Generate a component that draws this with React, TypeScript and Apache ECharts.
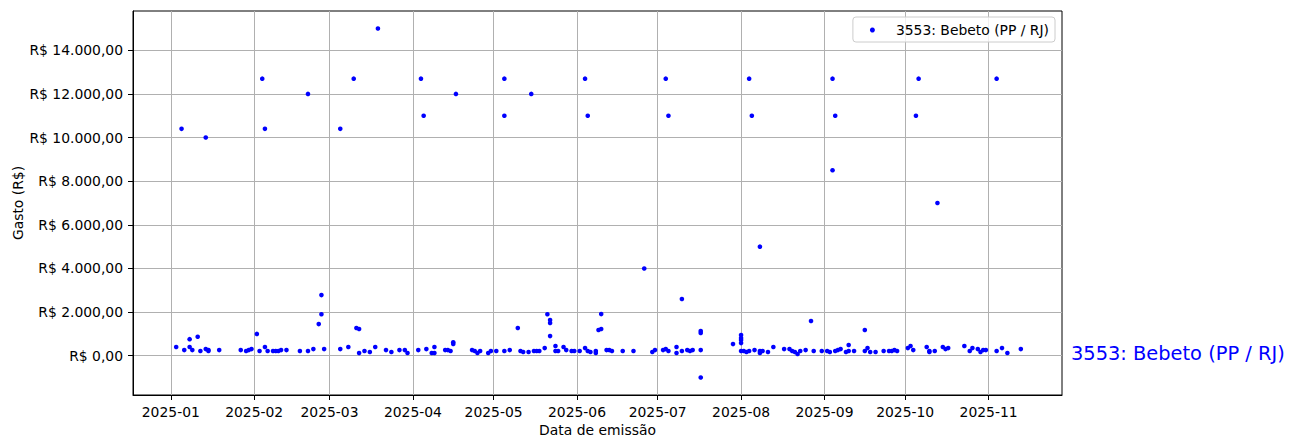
import React, { useEffect, useRef } from "react";
import * as echarts from "echarts";

const SERIES_NAME = "3553: Bebeto (PP / RJ)";

const dates: string[] = [
  "2025-01-03", "2025-01-05", "2025-01-06", "2025-01-08", "2025-01-08", "2025-01-09", "2025-01-11", "2025-01-12",
  "2025-01-14", "2025-01-14", "2025-01-15", "2025-01-15", "2025-01-19", "2025-01-27", "2025-01-29", "2025-01-30",
  "2025-01-31", "2025-02-02", "2025-02-03", "2025-02-04", "2025-02-05", "2025-02-05", "2025-02-06", "2025-02-08",
  "2025-02-09", "2025-02-10", "2025-02-11", "2025-02-13", "2025-02-18", "2025-02-21", "2025-02-21", "2025-02-23",
  "2025-02-25", "2025-02-26", "2025-02-26", "2025-02-27", "2025-03-05", "2025-03-05", "2025-03-08", "2025-03-10",
  "2025-03-11", "2025-03-12", "2025-03-12", "2025-03-14", "2025-03-16", "2025-03-18", "2025-03-19", "2025-03-22",
  "2025-03-24", "2025-03-27", "2025-03-29", "2025-03-30", "2025-04-03", "2025-04-04", "2025-04-05", "2025-04-06",
  "2025-04-08", "2025-04-09", "2025-04-09", "2025-04-13", "2025-04-14", "2025-04-15", "2025-04-16", "2025-04-16",
  "2025-04-17", "2025-04-23", "2025-04-24", "2025-04-25", "2025-04-26", "2025-04-29", "2025-04-30", "2025-05-02",
  "2025-05-05", "2025-05-05", "2025-05-05", "2025-05-07", "2025-05-10", "2025-05-11", "2025-05-12", "2025-05-14",
  "2025-05-15", "2025-05-16", "2025-05-17", "2025-05-18", "2025-05-20", "2025-05-21", "2025-05-22", "2025-05-22",
  "2025-05-22", "2025-05-24", "2025-05-24", "2025-05-25", "2025-05-27", "2025-05-28", "2025-05-30", "2025-05-31",
  "2025-06-02", "2025-06-04", "2025-06-04", "2025-06-05", "2025-06-05", "2025-06-06", "2025-06-08", "2025-06-08",
  "2025-06-09", "2025-06-10", "2025-06-10", "2025-06-12", "2025-06-13", "2025-06-14", "2025-06-18", "2025-06-22",
  "2025-06-26", "2025-06-29", "2025-06-30", "2025-07-03", "2025-07-04", "2025-07-04", "2025-07-05", "2025-07-05",
  "2025-07-08", "2025-07-08", "2025-07-10", "2025-07-10", "2025-07-12", "2025-07-13", "2025-07-14", "2025-07-17",
  "2025-07-17", "2025-07-17", "2025-07-17", "2025-07-29", "2025-08-01", "2025-08-01", "2025-08-01", "2025-08-01",
  "2025-08-01", "2025-08-02", "2025-08-03", "2025-08-04", "2025-08-04", "2025-08-05", "2025-08-06", "2025-08-08",
  "2025-08-08", "2025-08-08", "2025-08-09", "2025-08-11", "2025-08-13", "2025-08-17", "2025-08-19", "2025-08-20",
  "2025-08-21", "2025-08-22", "2025-08-23", "2025-08-25", "2025-08-27", "2025-08-28", "2025-08-31", "2025-09-02",
  "2025-09-03", "2025-09-04", "2025-09-04", "2025-09-05", "2025-09-05", "2025-09-06", "2025-09-07", "2025-09-09",
  "2025-09-10", "2025-09-10", "2025-09-12", "2025-09-16", "2025-09-16", "2025-09-17", "2025-09-18", "2025-09-20",
  "2025-09-23", "2025-09-25", "2025-09-26", "2025-09-27", "2025-09-28", "2025-10-02", "2025-10-03", "2025-10-04",
  "2025-10-05", "2025-10-06", "2025-10-09", "2025-10-10", "2025-10-10", "2025-10-12", "2025-10-13", "2025-10-15",
  "2025-10-16", "2025-10-17", "2025-10-23", "2025-10-25", "2025-10-26", "2025-10-28", "2025-10-29", "2025-10-30",
  "2025-10-31", "2025-11-04", "2025-11-04", "2025-11-06", "2025-11-08", "2025-11-13",
];

const values: number[] = [
  400, 10400, 260, 760, 400, 260, 870, 215,
  305, 10000, 260, 215, 260, 260, 215, 260,
  305, 1000, 215, 12700, 400, 10400, 215, 215,
  215, 215, 260, 260, 215, 215, 12000, 305,
  1450, 1900, 2780, 305, 305, 10400, 400, 12700,
  1270, 1225, 120, 215, 170, 400, 15000, 260,
  170, 260, 260, 125, 260, 12700, 11000, 305,
  125, 400, 125, 260, 260, 215, 620, 540,
  12000, 260, 215, 125, 215, 125, 215, 215,
  215, 12700, 11000, 260, 1270, 215, 170, 170,
  12000, 215, 215, 215, 350, 1900, 1500, 1635,
  900, 445, 215, 215, 400, 260, 215, 215,
  215, 350, 12700, 215, 11000, 170, 215, 125,
  1180, 1225, 1910, 260, 260, 215, 215, 215,
  4000, 170, 260, 260, 305, 12700, 215, 11000,
  400, 125, 2600, 215, 260, 215, 260, 1130,
  1040, 260, -1000, 535, 950, 810, 720, 580,
  215, 215, 170, 215, 12700, 11000, 260, 215,
  5000, 125, 215, 170, 400, 305, 305, 215,
  170, 80, 215, 260, 1590, 215, 215, 215,
  170, 12700, 8500, 11000, 215, 260, 305, 170,
  490, 215, 215, 1180, 215, 350, 170, 170,
  215, 215, 215, 260, 215, 350, 445, 260,
  11000, 12700, 400, 215, 170, 215, 7000, 400,
  305, 350, 445, 215, 350, 305, 170, 260,
  260, 215, 12700, 350, 125, 305,
];

const monthTicks: string[] = [
  "2025-01-01", "2025-02-01", "2025-03-01", "2025-04-01", "2025-05-01", "2025-06-01",
  "2025-07-01", "2025-08-01", "2025-09-01", "2025-10-01", "2025-11-01",
];

const yTicks: number[] = [0, 2000, 4000, 6000, 8000, 10000, 12000, 14000];

const DAY = 86400000;
const toMs = (s: string) => Date.parse(s + "T00:00:00Z");

const fmtBRL = (v: number) => {
  const neg = v < 0;
  const a = Math.abs(v);
  const [intPart, dec] = a.toFixed(2).split(".");
  const withDots = intPart.replace(/\B(?=(\d{3})+(?!\d))/g, ".");
  return "R$ " + (neg ? "-" : "") + withDots + "," + dec;
};

const fmtMonth = (v: number) => {
  const d = new Date(v);
  return d.getUTCFullYear() + "-" + String(d.getUTCMonth() + 1).padStart(2, "0");
};

export default function App() {
  const ref = useRef<HTMLDivElement>(null);
  useEffect(() => {
    if (!ref.current) return;
    const chart = echarts.init(ref.current, undefined, { renderer: "svg" });
    const font = "DejaVu Sans";
    const jan1 = toMs("2025-01-01");
    const tickMs = monthTicks.map(toMs);
    const data = dates.map((d, i) => [toMs(d), values[i]]);
    chart.setOption({
      animation: false,
      backgroundColor: "#ffffff",
      textStyle: { fontFamily: font },
      grid: {
        left: 133,
        right: 233,
        top: 11,
        bottom: 53,
        containLabel: false,
        outerBoundsMode: "none",
        show: true,
        borderColor: "#000000",
        borderWidth: 1,
        backgroundColor: "#ffffff",
      },
      legend: {
        show: true,
        right: 240,
        top: 17,
        orient: "horizontal",
        padding: [6, 6, 5, 17],
        itemWidth: 37,
        itemHeight: 5,
        itemGap: 5,
        borderColor: "#cccccc",
        borderWidth: 1,
        borderRadius: 3,
        backgroundColor: "rgba(255,255,255,0.8)",
        data: [{ name: SERIES_NAME, icon: "circle", itemStyle: { color: "#0000ff", opacity: 1 } }],
        textStyle: { fontFamily: font, fontSize: 13.9, color: "#000000" },
      },
      xAxis: {
        type: "value",
        min: jan1 - 14.05 * DAY,
        max: jan1 + 331.3 * DAY,
        name: "Data de emissão",
        nameLocation: "middle",
        nameGap: 28,
        nameMoveOverlap: false,
        nameTextStyle: { fontFamily: font, fontSize: 13.9, color: "#000000" },
        axisLine: { show: true, onZero: false, lineStyle: { color: "#000000", width: 1 } },
        axisTick: {
          show: true,
          inside: false,
          length: 5,
          customValues: tickMs,
          lineStyle: { color: "#000000", width: 1 },
        },
        axisLabel: {
          show: true,
          margin: 10,
          customValues: tickMs,
          formatter: fmtMonth,
          fontFamily: font,
          fontSize: 13.9,
          color: "#000000",
        },
        splitLine: { show: true, lineStyle: { color: "#b0b0b0", width: 1 } },
      },
      yAxis: {
        type: "value",
        min: -1800,
        max: 15800,
        name: "Gasto (R$)",
        nameLocation: "middle",
        nameGap: 108,
        nameMoveOverlap: false,
        nameTextStyle: { fontFamily: font, fontSize: 13.9, color: "#000000" },
        axisLine: { show: true, onZero: false, lineStyle: { color: "#000000", width: 1 } },
        axisTick: {
          show: true,
          inside: false,
          length: 5,
          customValues: yTicks,
          lineStyle: { color: "#000000", width: 1 },
        },
        axisLabel: {
          show: true,
          margin: 10,
          customValues: yTicks,
          formatter: fmtBRL,
          fontFamily: font,
          fontSize: 13.9,
          color: "#000000",
        },
        splitLine: { show: true, lineStyle: { color: "#b0b0b0", width: 1 } },
      },
      series: [
        {
          name: SERIES_NAME,
          type: "scatter",
          data,
          symbol: "circle",
          symbolSize: 4.6,
          itemStyle: { color: "#0000ff", opacity: 1 },
          emphasis: { disabled: true },
        },
      ],
      graphic: [
        {
          type: "text",
          left: 1071,
          top: 344,
          style: {
            text: SERIES_NAME,
            fill: "#0000ff",
            font: "19.4px 'DejaVu Sans'",
          },
        },
      ],
    });
    return () => chart.dispose();
  }, []);
  return (
    <div
      ref={ref}
      style={{ position: "fixed", left: 0, top: 0, width: 1295, height: 448 }}
    />
  );
}
